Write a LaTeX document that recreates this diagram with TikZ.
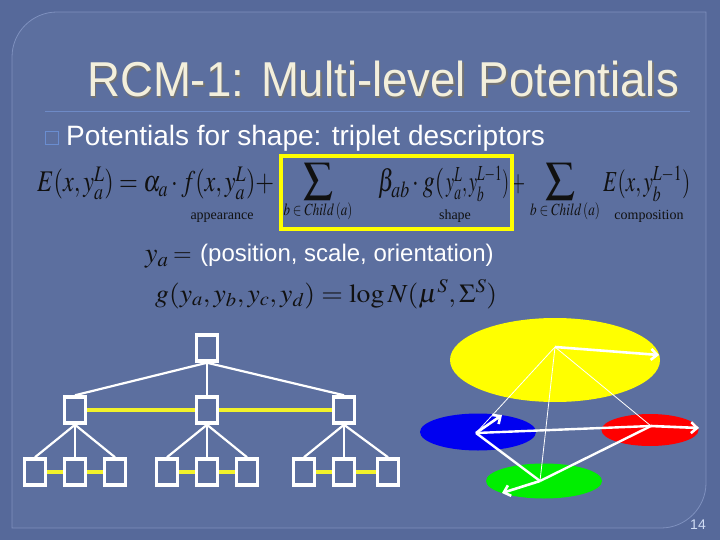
\documentclass[tikz,border=0pt]{standalone}
\usepackage{mathptmx}
\usepackage{graphicx}
\usepackage{fontspec}
\setmainfont{Liberation Sans}
\newfontfamily\timesf{Liberation Serif}
\usetikzlibrary{arrows.meta,shapes.geometric}
\definecolor{outerbg}{HTML}{56699A}
\definecolor{innerbg}{HTML}{5C6F9F}
\definecolor{framecol}{HTML}{7E90BE}
\definecolor{rulecol}{HTML}{6E8AC6}
\definecolor{titlecol}{HTML}{F3EFDC}
\definecolor{bulletcol}{HTML}{6A8DD0}
\definecolor{inkcol}{HTML}{111111}
\definecolor{yel}{HTML}{FFFF00}
\definecolor{ylink}{HTML}{F2F22A}
\definecolor{blu}{HTML}{0000F0}
\definecolor{rd}{HTML}{FF0000}
\definecolor{grn}{HTML}{00EE00}
\definecolor{numcol}{HTML}{D0DCF4}
\tikzset{
  tbox/.style={draw=white, line width=3.5pt, minimum width=21pt, minimum height=26pt, inner sep=0pt},
  tedge/.style={white, line width=2.2pt},
  ylinkst/.style={ylink, line width=4pt},
  mathtxt/.style={inner sep=0pt, anchor=base west, text=inkcol},
  lbl/.style={inner sep=0pt, anchor=base, text=inkcol, font=\timesf\fontsize{14}{16}\selectfont},
  thinl/.style={white, line width=0.8pt},
  medl/.style={white, line width=2.4pt},
  arr/.style={white, line width=2.6pt, -{Straight Barb[length=6pt,width=11pt]}},
  blob/.style={ellipse, inner sep=0pt}
}
\begin{document}
\begin{tikzpicture}[x=1pt,y=-1pt]
\useasboundingbox (0,0) rectangle (720,540);
\fill[outerbg] (0,0) rectangle (720,540);
\path[fill=innerbg, draw=framecol, line width=0.8pt]
  (12,528) -- (12,57) .. controls (12,32.2) and (32.2,12) .. (57,12)
  -- (706,12) -- (706,483) .. controls (706,507.8) and (685.8,528) .. (661,528) -- cycle;
% title
\node[inner sep=0pt, anchor=base west, text=black!55, font=\fontsize{49}{55}\selectfont] (tsh) at (88.5,98.5) {\scalebox{0.93}[1]{RCM-1: Multi-level Potentials}};
\node[inner sep=0pt, anchor=base west, text=titlecol, font=\fontsize{49}{55}\selectfont] (title) at (87,97) {\scalebox{0.93}[1]{RCM-1: Multi-level Potentials}};
\draw[rulecol, line width=1pt] (45,112) -- (690,112);
% bullet
\node[draw=bulletcol, line width=1.6pt, minimum size=13pt, inner sep=0pt] (bul) at (52,138) {};
\node[inner sep=0pt, anchor=base west, text=white, font=\fontsize{28}{32}\selectfont] (sub) at (66,146) {Potentials for shape: triplet descriptors};
% formula
\node[mathtxt, font=\fontsize{30}{36}\selectfont] (f1) at (37,192) {\resizebox{237pt}{\height}{$E(x, y_a^L) = \alpha_a \cdot f(x, y_a^L) +$}};
\node[inner sep=0pt, text=inkcol] (s1) at (318,182) {\resizebox*{30pt}{37pt}{$\displaystyle\sum$}};
\node[mathtxt, anchor=base, font=\fontsize{17}{20}\selectfont] (c1) at (318,215) {\resizebox{69pt}{\height}{$b\in Child\,(a)$}};
\node[mathtxt, font=\fontsize{31}{36}\selectfont] (f2a) at (378,192) {\resizebox{66pt}{\height}{$\beta_{ab} \cdot g($}};
\node[mathtxt, font=\fontsize{29}{34}\selectfont] (f2b) at (446,192) {\resizebox{79pt}{\height}{$y_a^L, y_b^{L-1})\,+$}};
\node[inner sep=0pt, text=inkcol] (s2) at (560,182) {\resizebox*{30pt}{37pt}{$\displaystyle\sum$}};
\node[mathtxt, anchor=base, font=\fontsize{17}{20}\selectfont] (c2) at (565,215) {\resizebox{70pt}{\height}{$b\in Child\,(a)$}};
\node[mathtxt, font=\fontsize{29}{34}\selectfont] (f3) at (603,192) {\resizebox{87pt}{\height}{$E(x, y_b^{L-1})$}};
\node[lbl] (la) at (222,219) {appearance};
\node[lbl] (ls) at (455,220) {shape};
\node[lbl] (lc) at (649,219) {composition};
\draw[yel, line width=4pt] (281,156) rectangle (512,229);
% second line
\node[mathtxt, font=\fontsize{28}{32}\selectfont] (ya) at (145,262) {$y_a$};
\node[mathtxt, font=\fontsize{24}{28}\selectfont] (eq) at (173,261) {$=$};
\node[inner sep=0pt, anchor=base west, text=white, font=\fontsize{24}{28}\selectfont] (pso) at (200,261) {(position, scale, orientation)};
\node[mathtxt, font=\fontsize{26}{30}\selectfont] (gl) at (155,302) {\resizebox{342pt}{\height}{$g(y_a, y_b, y_c, y_d) = \log N(\mu^S, \Sigma^S)$}};
% tree
\node[tbox] (r) at (207,348) {};
\node[tbox] (m1) at (75,410) {};
\node[tbox] (m2) at (207,410) {};
\node[tbox] (m3) at (344,410) {};
\node[tbox] (b1) at (35,472) {};
\node[tbox] (b2) at (75,472) {};
\node[tbox] (b3) at (115,472) {};
\node[tbox] (b4) at (167,472) {};
\node[tbox] (b5) at (207,472) {};
\node[tbox] (b6) at (247,472) {};
\node[tbox] (b7) at (304,472) {};
\node[tbox] (b8) at (344,472) {};
\node[tbox] (b9) at (388,472) {};
\foreach \m in {m1,m2,m3} \draw[tedge] (r.south) -- (\m.north);
\foreach \b in {b1,b2,b3} \draw[tedge] (m1.south) -- (\b.north);
\foreach \b in {b4,b5,b6} \draw[tedge] (m2.south) -- (\b.north);
\foreach \b in {b7,b8,b9} \draw[tedge] (m3.south) -- (\b.north);
\draw[ylinkst] (m1.east) -- (m2.west);
\draw[ylinkst] (m2.east) -- (m3.west);
\draw[ylinkst] (b1.east) -- (b2.west);
\draw[ylinkst] (b2.east) -- (b3.west);
\draw[ylinkst] (b4.east) -- (b5.west);
\draw[ylinkst] (b5.east) -- (b6.west);
\draw[ylinkst] (b7.east) -- (b8.west);
\draw[ylinkst] (b8.east) -- (b9.west);
% ellipses
\node[blob, fill=yel, minimum width=210pt, minimum height=84pt] (ey) at (555,360) {};
\node[blob, fill=blu, minimum width=116pt, minimum height=37pt] (eb) at (478,432) {};
\node[blob, fill=rd, minimum width=97pt, minimum height=32pt] (er) at (650,430) {};
\node[blob, fill=grn, minimum width=116pt, minimum height=35pt] (eg) at (544,481) {};
\coordinate (P) at (555,347);
\coordinate (B) at (476,433);
\coordinate (R) at (651,426);
\coordinate (G) at (540,481);
\coordinate (Pa) at (659,355);
\coordinate (Ba) at (502,415);
\coordinate (Ra) at (699,428);
\coordinate (Ga) at (502,493);
\draw[thinl] (P) -- (B);
\draw[thinl] (P) -- (R);
\draw[thinl] (P) -- (G);
\draw[medl] (B) -- (R);
\draw[medl] (B) -- (G);
\draw[medl] (G) -- (R);
\draw[arr] (P) -- (Pa);
\draw[arr] (B) -- (Ba);
\draw[arr] (R) -- (Ra);
\draw[arr] (G) -- (Ga);
\node[inner sep=0pt, anchor=base east, text=numcol, font=\fontsize{14}{16}\selectfont] (pg) at (706,529) {14};
\end{tikzpicture}
\end{document}
